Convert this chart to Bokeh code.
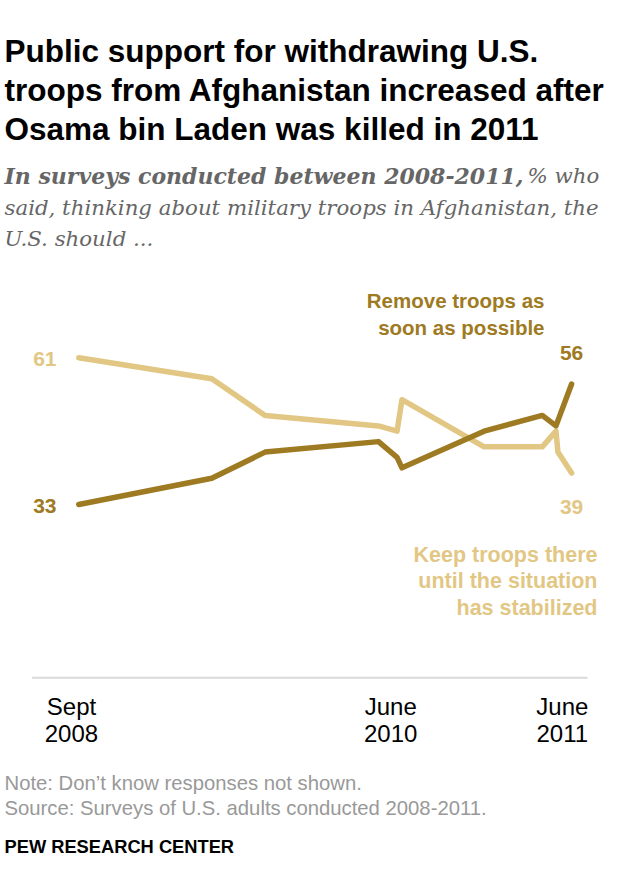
import pandas as pd
from bokeh.plotting import figure
from bokeh.models import Range1d, ColumnDataSource
from bokeh.core.properties import value
from bokeh.embed import file_html
from bokeh.resources import INLINE

# ---------------- data ----------------
remove_dates = ["2008-09-12", "2009-06-11", "2009-09-28", "2010-05-18", "2010-06-25",
                "2010-07-05", "2010-12-20", "2011-04-18", "2011-05-16", "2011-06-17"]
remove_values = [33, 38, 43, 45, 42, 40, 47, 50, 48, 56]

keep_dates = ["2008-09-12", "2009-06-11", "2009-09-28", "2010-05-18", "2010-06-25",
              "2010-07-05", "2010-12-20", "2011-04-18", "2011-05-16", "2011-05-20", "2011-06-17"]
keep_values = [61, 57, 50, 48, 47, 53, 44, 44, 47, 43, 39]

tick_dates = ["2008-08-28", "2010-06-12", "2011-05-29"]
tick_months = ["Sept", "June", "June"]
tick_years = ["2008", "2010", "2011"]

remove_label = ["Remove troops as", "soon as possible"]
keep_label = ["Keep troops there", "until the situation", "has stabilized"]

title_lines = ["Public support for withdrawing U.S.",
               "troops from Afghanistan increased after",
               "Osama bin Laden was killed in 2011"]
subtitle_bold = "In surveys conducted between 2008-2011,"
subtitle_rest = ["% who", "said, thinking about military troops in Afghanistan, the", "U.S. should ..."]
note_lines = ["Note: Don\u2019t know responses not shown.",
              "Source: Surveys of U.S. adults conducted 2008-2011."]
credit = "PEW RESEARCH CENTER"

DARK = "#9E7A22"
LIGHT = "#E2C784"

# ---------------- layout ----------------
W, H = 612, 888
t0 = pd.Timestamp(remove_dates[0])
px_per_day = 0.4889
x0_px = 78.3
x_start = t0 - pd.Timedelta(days=x0_px / px_per_day)
x_end = t0 + pd.Timedelta(days=(W - x0_px) / px_per_day)
ppu = 5.239
y61_px = 357.3
y_top = 61 + y61_px / ppu
y_bot = 61 - (H - y61_px) / ppu

p = figure(width=W, height=H, output_backend="svg", toolbar_location=None,
           x_axis_type=None, y_axis_type=None,
           x_range=Range1d(x_start.to_pydatetime(), x_end.to_pydatetime()),
           y_range=Range1d(y_bot, y_top),
           min_border=0, min_border_left=0, min_border_right=0,
           min_border_top=0, min_border_bottom=0)
p.outline_line_color = None
p.background_fill_color = "white"
p.border_fill_color = "white"
p.extra_x_ranges = {"px": Range1d(0, W)}
p.extra_y_ranges = {"px": Range1d(H, 0)}

SANS = value("Liberation Sans")
SERIF = value("DejaVu Serif")


def txt(x, y, t, size, color, style="normal", align="left", font=SANS, xr="px"):
    kw = dict(x_range_name=xr) if xr != "default" else {}
    p.text(x=x, y=y, text=t, text_font=font, text_font_size=f"{size}px",
           text_font_style=style, text_color=color, text_align=align,
           text_baseline="middle", y_range_name="px", **kw)


# title
txt([4, 4, 4], [50, 89, 128], title_lines, 31.5, "#000000", "bold")

# subtitle
txt([4], [175], [subtitle_bold], 22, "#666666", "bold italic", font=SERIF)
txt([527, 4, 4], [175, 206.5, 238], subtitle_rest, 21.3, "#666666", "italic", font=SERIF)

# baseline rule
p.segment(x0=[31.6], y0=[677.3], x1=[587], y1=[677.3], x_range_name="px", y_range_name="px",
          line_color="#D9D9D9", line_width=2)

# lines
src_r = ColumnDataSource(dict(x=pd.to_datetime(remove_dates), y=remove_values))
src_k = ColumnDataSource(dict(x=pd.to_datetime(keep_dates), y=keep_values))
p.line("x", "y", source=src_k, line_color=LIGHT, line_width=5.5, line_cap="round", line_join="round")
p.line("x", "y", source=src_r, line_color=DARK, line_width=5.5, line_cap="round", line_join="round")

# value labels
txt([56], [358], [str(keep_values[0])], 21, LIGHT, "bold", "right")
txt([56], [505.5], [str(remove_values[0])], 21, DARK, "bold", "right")
txt([pd.Timestamp(remove_dates[-1])], [352.5], [str(remove_values[-1])], 21, DARK, "bold", "center", xr="default")
txt([pd.Timestamp(keep_dates[-1])], [506.5], [str(keep_values[-1])], 21, LIGHT, "bold", "center", xr="default")

# series labels
txt([544, 544], [300, 326.5], remove_label, 20.5, DARK, "bold", "right")
txt([597, 597, 597], [554, 580.5, 607], keep_label, 21.5, LIGHT, "bold", "right")

# x tick labels
tk = pd.to_datetime(tick_dates)
txt(list(tk), [705.5] * 3, tick_months, 24, "#000000", "normal", "center", xr="default")
txt(list(tk), [733] * 3, tick_years, 24, "#000000", "normal", "center", xr="default")

# notes
txt([4, 4], [782, 807], note_lines, 20.3, "#999999")
txt([4], [845.5], [credit], 18.3, "#000000", "bold")

open("out.html", "w").write(file_html(p, INLINE))
